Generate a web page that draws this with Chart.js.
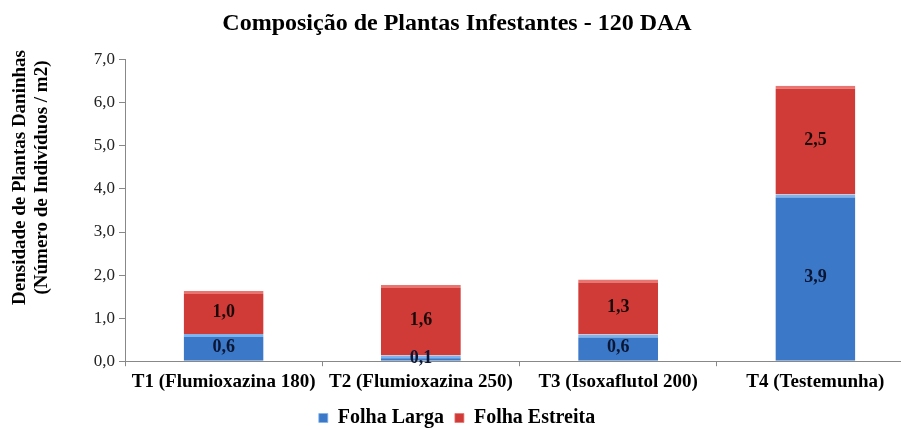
<!DOCTYPE html>
<html lang="pt">
<head>
    <meta charset="UTF-8">
    <title>Composição de Plantas Infestantes - 120 DAA</title>
    <script src="https://cdn.jsdelivr.net/npm/chart.js"></script>
    <style>
        html, body { margin: 0; padding: 0; background: #fff; overflow: hidden; }
        /* o gráfico original está cortado à direita: o eixo continua além da janela */
        #wrap { width: 914px; height: 440px; position: relative; }
    </style>
</head>
<body>
    <div id="wrap"><canvas id="grafico"></canvas></div>

    <script>
        // dados
        const tratamentos = ['T1 (Flumioxazina 180)', 'T2 (Flumioxazina 250)', 'T3 (Isoxaflutol 200)', 'T4 (Testemunha)'];
        const folhaLarga = [0.63, 0.13, 0.62, 3.87];
        const folhaEstreita = [1.0, 1.64, 1.28, 2.53];
        const yTicks = [0, 1, 2, 3, 4, 5, 6, 7];
        const tituloY = ['Densidade de Plantas Daninhas', '(Número de Indivíduos / m2)'];

        const serif = "'Liberation Serif', 'Times New Roman', serif";
        const virgula = v => v.toFixed(1).replace('.', ',');

        // rótulos dentro das barras
        const rotulos = {
            id: 'rotulos',
            afterDatasetsDraw(chart) {
                const ctx = chart.ctx;
                ctx.save();
                ctx.font = 'bold 18px ' + serif;
                ctx.textAlign = 'center';
                ctx.textBaseline = 'middle';
                chart.data.datasets.forEach((ds, i) => {
                    chart.getDatasetMeta(i).data.forEach((bar, j) => {
                        ctx.fillStyle = i === 0 ? '#0a1633' : '#1a0a0a';
                        ctx.fillText(virgula(ds.data[j]), bar.x, (bar.y + bar.base) / 2);
                    });
                });
                ctx.restore();
            }
        };

        // título do eixo Y, um pouco acima do centro como no original
        const eixoY = {
            id: 'eixoY',
            afterDraw(chart) {
                const ctx = chart.ctx;
                const area = chart.chartArea;
                const cy = (area.top + area.bottom) / 2 - 33;
                ctx.save();
                ctx.font = 'bold 19px ' + serif;
                ctx.fillStyle = '#000';
                ctx.textAlign = 'center';
                ctx.textBaseline = 'middle';
                tituloY.forEach((linha, i) => {
                    ctx.save();
                    ctx.translate(20 + i * 22, cy);
                    ctx.rotate(-Math.PI / 2);
                    ctx.fillText(linha, 0, 0);
                    ctx.restore();
                });
                ctx.restore();
            }
        };

        const ctx = document.getElementById('grafico').getContext('2d');
        new Chart(ctx, {
            type: 'bar',
            data: {
                labels: tratamentos,
                datasets: [
                    {
                        label: 'Folha Larga',
                        data: folhaLarga,
                        backgroundColor: '#3b78c8',
                        borderColor: '#7db4ee',
                        borderWidth: { top: 3, left: 0, right: 0, bottom: 0 },
                        borderSkipped: false
                    },
                    {
                        label: 'Folha Estreita',
                        data: folhaEstreita,
                        backgroundColor: '#d13b37',
                        borderColor: '#e97470',
                        borderWidth: { top: 3, left: 0, right: 0, bottom: 0 },
                        borderSkipped: false
                    }
                ]
            },
            options: {
                responsive: true,
                maintainAspectRatio: false,
                animation: false,
                datasets: { bar: { barPercentage: 0.405, categoryPercentage: 1 } },
                layout: { padding: { left: 0, right: 0, top: 9, bottom: 2 } },
                plugins: {
                    title: {
                        display: true,
                        text: 'Composição de Plantas Infestantes - 120 DAA',
                        color: '#000',
                        font: { family: serif, size: 24, weight: 'bold' },
                        padding: { top: 0, bottom: 22 }
                    },
                    legend: {
                        position: 'bottom',
                        labels: {
                            boxWidth: 9,
                            boxHeight: 9,
                            padding: 11,
                            color: '#000',
                            font: { family: serif, size: 20, weight: 'bold' }
                        }
                    },
                    tooltip: { enabled: false }
                },
                scales: {
                    x: {
                        stacked: true,
                        grid: { offset: true, drawOnChartArea: false, tickLength: 5, color: '#888' },
                        border: { color: '#888' },
                        ticks: { color: '#000', font: { family: serif, size: 19, weight: 'bold' }, padding: 4, maxRotation: 0 }
                    },
                    y: {
                        stacked: true,
                        min: 0,
                        max: 7,
                        afterFit(scale) { scale.width = 125; },
                        afterBuildTicks(scale) { scale.ticks = yTicks.map(v => ({ value: v })); },
                        grid: { drawOnChartArea: false, tickLength: 6, color: '#888' },
                        border: { color: '#888' },
                        ticks: {
                            color: '#222',
                            font: { family: serif, size: 17 },
                            padding: 4,
                            callback: v => virgula(v)
                        }
                    }
                }
            },
            plugins: [rotulos, eixoY]
        });
    </script>
</body>
</html>
